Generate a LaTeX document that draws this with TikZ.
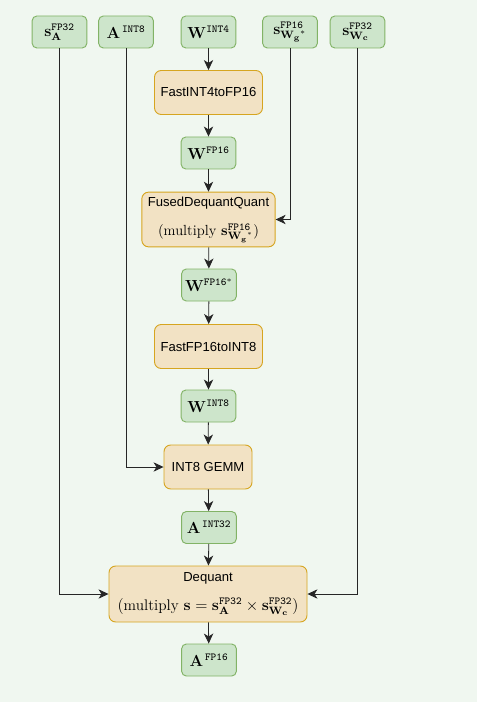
\documentclass[tikz,border=0pt]{standalone}
\usepackage{amsmath}
\usepackage[no-math]{fontspec}
\newfontfamily\helv{Liberation Sans}
\usetikzlibrary{arrows.meta}
\definecolor{bgcol}{HTML}{F0F7F0}
\definecolor{varfill}{HTML}{CDE5CB}
\definecolor{vardraw}{HTML}{82B366}
\definecolor{opfill}{HTML}{F2E2C4}
\definecolor{opdraw}{HTML}{D6A520}
\tikzset{var/.style={draw=vardraw, fill=varfill, rounded corners=3.5pt, line width=0.7pt,
      minimum width=41pt, minimum height=24pt, inner sep=0pt, font=\fontsize{12}{14}\selectfont},
    op/.style={draw=opdraw, fill=opfill, rounded corners=5pt, line width=0.7pt,
      minimum height=33pt, inner sep=0pt, align=center, font=\helv\fontsize{9.8}{12}\selectfont},
    flow/.style={-{Stealth[length=7.5pt,width=7pt,inset=2.2pt]}, line width=0.6pt, black!85}}

\begin{document}
\begin{tikzpicture}[x=0.75pt,y=-0.75pt]
		\useasboundingbox[fill=bgcol] (0,0) rectangle (477,702);
		% inputs
		\node[var] (sA) at (59.5,32) {$\mathbf{s}^{\mathtt{FP32}}_{\mathbf{A}}$};
		\node[var] (A8) at (126,32) {$\mathbf{A}^{\,\mathtt{INT8}}$};
		\node[var] (W4) at (208.5,32) {$\mathbf{W}^{\mathtt{INT4}}$};
		\node[var] (sWg) at (290,32) {$\mathbf{s}^{\mathtt{FP16}}_{\mathbf{W_g}^*}$};
		\node[var] (sWc) at (357.5,32) {$\mathbf{s}^{\mathtt{FP32}}_{\mathbf{W_c}}$};
		% main chain
		\node[op, minimum width=81pt] (cvt1) at (208.5,92.5) {FastINT4toFP16};
		\node[var] (W16) at (208.5,153) {$\mathbf{W}^{\mathtt{FP16}}$};
		\node[op, minimum width=100pt, minimum height=41pt] (fdq) at (208.5,219.5)
			{FusedDequantQuant\\[10pt]{\rmfamily\fontsize{11}{13}\selectfont$(\text{multiply }\mathbf{s}^{\mathtt{FP16}}_{\mathbf{W_g}^*})$}};
		\node[var] (W16s) at (209,285) {$\mathbf{W}^{\mathtt{FP16}^*}$};
		\node[op, minimum width=81pt] (cvt2) at (208.5,346.5) {FastFP16toINT8};
		\node[var] (W8) at (208.5,406) {$\mathbf{W}^{\mathtt{INT8}}$};
		\node[op, minimum width=66pt] (gemm) at (208,467) {INT8 GEMM};
		\node[var] (A32) at (209,527.5) {$\mathbf{A}^{\,\mathtt{INT32}}$};
		\node[op, minimum width=148.5pt, minimum height=42pt] (deq) at (208,594)
			{Dequant\\[10pt]{\rmfamily\fontsize{11.5}{13}\selectfont$(\text{multiply }\mathbf{s}=\mathbf{s}^{\mathtt{FP32}}_{\mathbf{A}}\times\mathbf{s}^{\mathtt{FP32}}_{\mathbf{W_c}})$}};
		\node[var] (A16) at (209,660) {$\mathbf{A}^{\,\mathtt{FP16}}$};
		% connectors
		\draw[flow] (W4) -- (cvt1);
		\draw[flow] (cvt1) -- (W16);
		\draw[flow] (W16) -- (fdq);
		\draw[flow] (fdq) -- (W16s);
		\draw[flow] (W16s) -- (cvt2);
		\draw[flow] (cvt2) -- (W8);
		\draw[flow] (W8) -- (gemm);
		\draw[flow] (gemm) -- (A32);
		\draw[flow] (A32) -- (deq);
		\draw[flow] (deq) -- (A16);
		\draw[flow] (sWg) |- (fdq);
		\draw[flow] (A8) |- (gemm);
		\draw[flow] (sA) |- (deq);
		\draw[flow] (sWc) |- (deq);
\end{tikzpicture}
\end{document}
